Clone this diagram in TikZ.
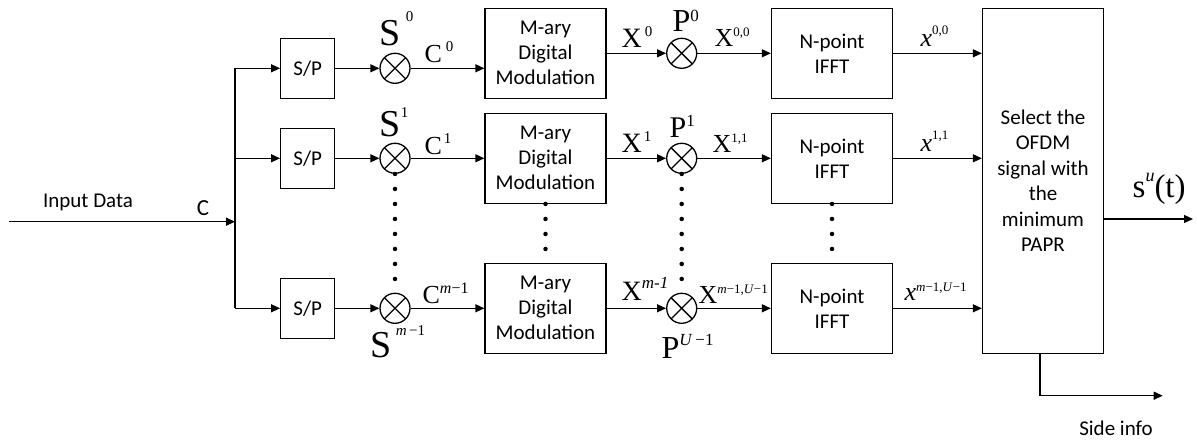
\documentclass[tikz,border=0pt]{standalone}
\usepackage{fontspec}
\setmainfont{Carlito}
\newfontfamily\tmr{Liberation Serif}
\usetikzlibrary{arrows.meta}
% base symbol with a raised index
\newcommand\tsym[5]{{\tmr\fontsize{#1}{#1}\selectfont #2\raisebox{#4}{\fontsize{#3}{#3}\selectfont #5}}}
\tikzset{
  blk/.style={draw, minimum width=121pt, minimum height=90pt, inner sep=0pt, align=center, font=\fontsize{21}{25}\selectfont},
  spbox/.style={draw, minimum width=54pt, minimum height=60pt, inner sep=0pt, font=\fontsize{21}{24}\selectfont},
  mult/.style={draw, circle, minimum size=30pt, inner sep=0pt,
    path picture={\draw (path picture bounding box.north west) -- (path picture bounding box.south east)
      (path picture bounding box.north east) -- (path picture bounding box.south west);}},
  sig/.style={-{Triangle[length=9pt,width=8pt]}},
  dotline/.style={line width=4.5pt, line cap=round, dash pattern=on 0pt off 15pt},
  lbl/.style={inner sep=0pt, anchor=base west},
  txt/.style={inner sep=0pt, font=\fontsize{21}{24}\selectfont},
}
\begin{document}
\begin{tikzpicture}[x=1pt, y=-1pt, line width=1.3pt]
\useasboundingbox (0,0) rectangle (1197,441);

% blocks
\node[spbox] (sp0) at (307.7,68.3) {S/P};
\node[spbox] (sp1) at (307.7,158.3) {S/P};
\node[spbox] (sp2) at (307.7,308.3) {S/P};
\node[mult] (mA0) at (395,68.3) {};
\node[mult] (mA1) at (395,158.3) {};
\node[mult] (mA2) at (395,308.3) {};
\node[blk] (mod0) at (545.5,53.3) {M-ary\\Digital\\Modulation};
\node[blk] (mod1) at (545.5,158.3) {M-ary\\Digital\\Modulation};
\node[blk] (mod2) at (545.5,308.3) {M-ary\\Digital\\Modulation};
\node[mult] (mB0) at (681.7,53.3) {};
\node[mult] (mB1) at (681.7,158.3) {};
\node[mult] (mB2) at (681.7,308.3) {};
\node[blk] (fft0) at (832,53.3) {N-point\\IFFT};
\node[blk] (fft1) at (832,158.3) {N-point\\IFFT};
\node[blk] (fft2) at (832,308.3) {N-point\\IFFT};
\node[blk, minimum height=345pt, font=\fontsize{21}{25.5}\selectfont] (sel) at (1043,180.8)
  {Select the\\OFDM\\signal with\\the\\minimum\\PAPR};

\coordinate (in) at (9,221.7);
\coordinate (br) at (235,221.7);
\coordinate (out) at (1193,219);
\coordinate (side) at (1162.7,395.7);

% connectors
\draw[sig] (in) -- (br);
\draw (br |- sp0) -- (br |- sp2);
\foreach \i in {0,1,2}
{
    \draw[sig] (br |- sp\i) -- (sp\i);
    \draw[sig] (sp\i) -- (mA\i);
    \draw[sig] (mA\i) -- (mA\i -| mod\i.west);
    \draw[sig] (mod\i) -- (mB\i);
    \draw[sig] (mB\i) -- (fft\i);
    \draw[sig] (fft\i) -- (fft\i -| sel.west);
}
\draw[sig] (sel.east |- out) -- (out);
\draw[sig] ([xshift=-3pt]sel.south) |- (side);

% dots
\draw[dotline] (mA1.south) -- (mA2.north);
\draw[dotline] (mod1.south) -- (mod2.north);
\draw[dotline] (mB1.south) -- (mB2.north);
\draw[dotline] (fft1.south) -- (fft2.north);

% labels
\node[txt] (tin) at (88,202) {Input Data};
\node[txt, font=\fontsize{23}{24}\selectfont] (tc) at (203,208) {C};
\node[txt] (tside) at (1116,428) {Side info};

\node[lbl] (lS0) at (379,46) {\tsym{38}{S}{15}{24pt}{\hspace{5pt}0}};
\node[lbl] (lC0) at (424,63) {\tsym{26}{C}{15}{11pt}{\hspace{4pt}0}};
\node[lbl] (lS1) at (379,137) {\tsym{38}{S}{15}{19pt}{1}};
\node[lbl] (lC1) at (424,155) {\tsym{26}{C}{15}{11pt}{\hspace{2pt}1}};
\node[lbl] (lS2) at (370,357) {\tsym{38}{S}{15}{22pt}{\hspace{4pt}\textit{m}\,−1}};
\node[lbl] (lC2) at (422,303) {\tsym{26}{C}{16}{10pt}{\textit{m}−1}};

\node[lbl] (lX0) at (621,48) {\tsym{28}{X}{15}{11pt}{\hspace{3pt}0}};
\node[lbl] (lP0) at (672,32) {\tsym{32}{P}{17}{10pt}{0}};
\node[lbl] (lXP0) at (714,47) {\tsym{26}{X}{13}{10pt}{0,0}};
\node[lbl] (lX1) at (621,153) {\tsym{28}{X}{15}{11pt}{\hspace{2pt}1}};
\node[lbl] (lP1) at (669,138) {\tsym{30}{P}{17}{11pt}{1}};
\node[lbl] (lXP1) at (712,153) {\tsym{26}{X}{13}{10pt}{1,1}};
\node[lbl] (lX2) at (621,300) {\tsym{28}{X}{17}{12pt}{\textit{m-1}}};
\node[lbl] (lP2) at (661,358) {\tsym{32}{P}{17}{13pt}{\textit{U}\,−1}};
\node[lbl] (lXP2) at (698,303) {\tsym{26}{X}{13}{10pt}{\textit{m}−1,\textit{U}−1}};

\node[lbl] (lx0) at (920,47) {\tsym{26}{\textit{x}}{13}{12pt}{0,0}};
\node[lbl] (lx1) at (920,152) {\tsym{26}{\textit{x}}{13}{12pt}{1,1}};
\node[lbl] (lx2) at (904,300) {\tsym{26}{\textit{x}}{13}{9pt}{\textit{m}−1,\textit{U}−1}};
\node[lbl] (lout) at (1132,197) {\tsym{33}{s}{18}{16pt}{\textit{u}}{\tmr\fontsize{33}{33}\selectfont(t)}};

\end{tikzpicture}
\end{document}
